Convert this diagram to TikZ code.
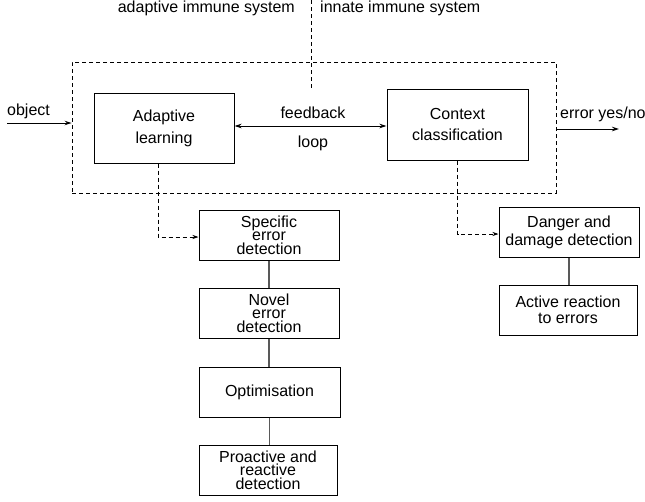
\documentclass[tikz,border=0pt]{standalone}
\usepackage{fontspec}
\setmainfont{Liberation Sans}
\usetikzlibrary{arrows.meta}
\tikzset{
  box/.style={draw=black, line width=1pt, inner sep=0pt, align=center,
    font=\fontsize{16}{13.5}\selectfont},
  lbl/.style={inner sep=0pt, font=\fontsize{16}{18}\selectfont},
  frame/.style={draw=black, dash pattern=on 4pt off 3pt, line width=0.9pt, inner sep=0pt},
  link/.style={draw=black!65, line width=1.3pt},
  dlink/.style={draw=black, dash pattern=on 4pt off 3pt, line width=0.9pt, -{Stealth[length=6pt,width=4pt]}},
  arr/.style={draw=black, line width=1pt, -{Stealth[length=7pt,width=4.5pt]}},
}
\begin{document}
\begin{tikzpicture}[x=1pt,y=-1pt]
\useasboundingbox (0,0) rectangle (645,501);
% dashed frame
\node[frame, minimum width=484pt, minimum height=131pt] (frame) at (314,127.5) {};
% divider
\coordinate (dtop) at (311,0);
\coordinate (dbot) at (311,90);
\draw[frame] (dtop) -- (dbot);
% top labels
\node[lbl, anchor=base east] (adl) at (295,12) {adaptive immune system};
\node[lbl, anchor=base west] (inl) at (320,12) {innate immune system};
% main boxes
\node[box, minimum width=140pt, minimum height=70pt,
      font=\fontsize{16}{22}\selectfont] (AL) at (164,128) {Adaptive\\learning};
\node[box, minimum width=141pt, minimum height=71pt,
      font=\fontsize{16}{21}\selectfont] (CC) at (457.5,124.5) {Context\\classification};
% feedback loop
\coordinate (fb) at (0,126);
\draw[line width=1pt, {Stealth[length=7pt,width=4.5pt]}-{Stealth[length=7pt,width=4.5pt]}] (AL.east |- fb) -- (CC.west |- fb);
\node[lbl, anchor=base] (fbt) at (313,118) {feedback};
\node[lbl, anchor=base] (lpt) at (313,147) {loop};
% object input
\node[lbl, anchor=base west] (objt) at (7,115) {object};
\coordinate (objs) at (7,123);
\draw[arr] (objs) -- (frame.west |- objs);
% error output
\node[lbl, anchor=base west] (errt) at (560,118) {error yes/no};
\coordinate (erre) at (619,129);
\draw[arr] (frame.east |- erre) -- (erre);
% left column
\node[box, minimum width=140pt, minimum height=50pt] (SE) at (269,235) {Specific\\error\\detection};
\node[box, minimum width=140pt, minimum height=50pt] (NE) at (269,313) {Novel\\error\\detection};
\node[box, minimum width=141pt, minimum height=50pt] (OP) at (269.5,392) {Optimisation};
\node[box, minimum width=138pt, minimum height=50pt] (PR) at (268,470) {Proactive and\\reactive\\detection};
% right column
\node[box, minimum width=140pt, minimum height=50pt,
      font=\fontsize{16}{18}\selectfont] (DD) at (569,232) {Danger and\\damage detection};
\node[box, minimum width=138pt, minimum height=50pt,
      font=\fontsize{16}{16.5}\selectfont] (AR) at (568,310) {Active reaction\\to errors};
% connectors
\draw[link] (SE.south) -- (NE.north);
\draw[link] (NE.south) -- (NE.south |- OP.north);
\draw[link] (OP.south) -- (OP.south |- PR.north);
\draw[link] (DD.south) -- (DD.south |- AR.north);
\draw[dlink] ([xshift=-6pt]AL.south) |- ([yshift=-2pt]SE.west);
\draw[dlink] (CC.south) |- ([yshift=-2pt]DD.west);
\end{tikzpicture}
\end{document}
